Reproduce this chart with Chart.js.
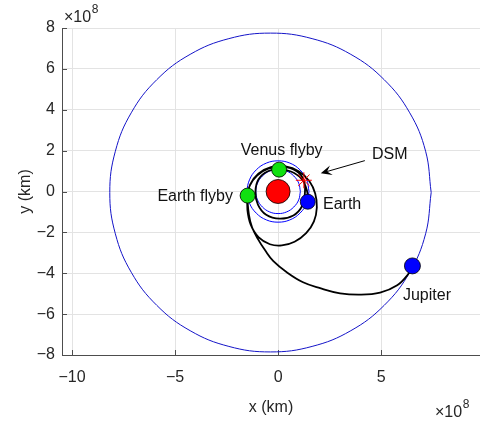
<!DOCTYPE html>
<html>
<head>
<meta charset="utf-8">
<script src="https://cdn.jsdelivr.net/npm/chart.js@4/dist/chart.umd.min.js"></script>
<style>
  html, body { margin: 0; padding: 0; background: #ffffff; }
  canvas { display: block; }
</style>
</head>
<body>
<canvas id="c" width="480" height="424"></canvas>
<script>
// All distances are in units of 10^8 km (axes carry the x10^8 multiplier).
const xTicks = [-10, -5, 0, 5];
const yTicks = [-8, -6, -4, -2, 0, 2, 4, 6, 8];

// Planetary orbits
const venusOrbit = [
  [1.08, 0], [1.00, 0.41], [0.76, 0.76], [0.41, 1.00], [0, 1.08], [-0.41, 1.00], [-0.76, 0.76], [-1.00, 0.41],
  [-1.08, 0], [-1.00, -0.41], [-0.76, -0.76], [-0.41, -1.00], [0, -1.08], [0.41, -1.00], [0.76, -0.76], [1.00, -0.41],
  [1.08, 0]
];
const earthOrbit = [
  [1.50, 0], [1.39, 0.57], [1.06, 1.06], [0.57, 1.39], [0, 1.50], [-0.57, 1.39], [-1.06, 1.06], [-1.39, 0.57],
  [-1.50, 0], [-1.39, -0.57], [-1.06, -1.06], [-0.57, -1.39], [0, -1.50], [0.57, -1.39], [1.06, -1.06], [1.39, -0.57],
  [1.50, 0]
];
const jupiterOrbit = [
  [7.43, -0.05], [7.16, 1.97], [6.39, 3.85], [5.15, 5.47], [3.53, 6.71], [1.65, 7.48], [-0.37, 7.75],
  [-2.39, 7.48], [-4.27, 6.71], [-5.89, 5.47], [-7.13, 3.85], [-7.90, 1.97], [-8.17, -0.05],
  [-7.90, -2.07], [-7.13, -3.95], [-5.89, -5.57], [-4.27, -6.81], [-2.39, -7.58], [-0.37, -7.85],
  [1.65, -7.58], [3.53, -6.81], [5.15, -5.57], [6.39, -3.95], [7.16, -2.07], [7.43, -0.05]
];

// Spacecraft path: launch, Venus flyby, DSM, two Earth passes, cruise to Jupiter
const trajectory = [
  [1.44, -0.50], [1.40, 0.05], [1.14, 0.62], [0.62, 0.98], [0.05, 1.08],
  [-0.52, 0.98], [-0.95, 0.60], [-1.10, 0.00], [-0.98, -0.64], [-0.58, -1.14],
  [0.08, -1.33], [0.74, -1.17], [1.16, -0.72], [1.30, -0.08], [1.25, 0.55],
  [0.88, 1.00], [0.25, 1.20], [-0.45, 1.13], [-1.02, 0.78], [-1.38, 0.28],
  [-1.48, -0.20], [-1.49, -0.90], [-1.33, -1.62], [-0.94, -2.25], [-0.40, -2.58],
  [0.18, -2.64], [0.80, -2.46], [1.36, -2.04], [1.74, -1.46], [1.88, -0.78],
  [1.80, -0.10], [1.52, 0.50], [1.02, 0.98], [0.36, 1.23], [-0.35, 1.19],
  [-0.96, 0.87], [-1.36, 0.34], [-1.48, -0.20],
  [-1.42, -1.12], [-1.26, -1.76], [-0.97, -2.34], [-0.63, -2.88], [-0.23, -3.41],
  [0.42, -3.95], [1.21, -4.44], [2.04, -4.73], [3.01, -4.98], [3.98, -5.05],
  [4.95, -4.95], [5.78, -4.59], [6.31, -4.05], [6.52, -3.64]
];

// Bodies and events
const sun = [[0, 0]];
const venusFlyby = [[0.05, 1.07]];
const earthFlyby = [[-1.48, -0.20]];
const earthLaunch = [[1.44, -0.50]];
const dsm = [[1.25, 0.55]];
const jupiter = [[6.52, -3.64]];

const FONT = '"Liberation Sans", Arial, Helvetica, sans-serif';
const INK = '#262626';

const pts = a => a.map(([x, y]) => ({ x, y }));
const fmtTick = v => (v < 0 ? '\u2212' + Math.abs(v) : String(v));

// Text annotations, placed in data coordinates
const notes = [
  { text: 'Venus flyby', x: 0.17, y: 2.00, align: 'center' },
  { text: 'Earth flyby', x: -2.19, y: -0.25, align: 'right' },
  { text: 'Earth', x: 2.18, y: -0.63, align: 'left' },
  { text: 'Jupiter', x: 6.06, y: -5.09, align: 'left' },
  { text: 'DSM', x: 4.56, y: 1.79, align: 'left' }
];
const dsmArrow = { from: [4.21, 1.51], to: [2.07, 0.89] };

function marker(data, fill, radius) {
  return {
    data: pts(data), showLine: false, pointRadius: radius, pointHoverRadius: radius,
    pointBackgroundColor: fill, pointBorderColor: '#000', pointBorderWidth: 0.8
  };
}
function curve(data, color, width) {
  return {
    data: pts(data), showLine: true, tension: 0.4, pointRadius: 0, pointHoverRadius: 0,
    borderColor: color, borderWidth: width, fill: false
  };
}

const decor = {
  id: 'decor',
  beforeDatasetsDraw(chart) {
    const { ctx, chartArea: a, scales: { x, y } } = chart;
    ctx.save();
    ctx.strokeStyle = '#4d4d4d';
    ctx.lineWidth = 1;
    ctx.beginPath();
    xTicks.forEach(v => {
      const px = Math.round(x.getPixelForValue(v)) + 0.5;
      ctx.moveTo(px, a.bottom); ctx.lineTo(px, a.bottom - 5);
    });
    yTicks.forEach(v => {
      const py = Math.round(y.getPixelForValue(v)) + 0.5;
      ctx.moveTo(a.left, py); ctx.lineTo(a.left + 5, py);
    });
    ctx.stroke();
    ctx.restore();
  },
  afterDraw(chart) {
    const { ctx, chartArea: a, scales: { x, y } } = chart;
    ctx.save();
    // annotation labels
    ctx.font = '16px ' + FONT;
    ctx.fillStyle = '#111';
    ctx.textBaseline = 'middle';
    notes.forEach(n => {
      ctx.textAlign = n.align;
      ctx.fillText(n.text, x.getPixelForValue(n.x), y.getPixelForValue(n.y));
    });
    // DSM arrow
    const x0 = x.getPixelForValue(dsmArrow.from[0]), y0 = y.getPixelForValue(dsmArrow.from[1]);
    const x1 = x.getPixelForValue(dsmArrow.to[0]), y1 = y.getPixelForValue(dsmArrow.to[1]);
    const ang = Math.atan2(y1 - y0, x1 - x0);
    const L = 11, W = 5;
    ctx.strokeStyle = '#000';
    ctx.lineWidth = 1;
    ctx.beginPath();
    ctx.moveTo(x0, y0);
    ctx.lineTo(x1 - Math.cos(ang) * L * 0.6, y1 - Math.sin(ang) * L * 0.6);
    ctx.stroke();
    ctx.fillStyle = '#000';
    ctx.beginPath();
    ctx.moveTo(x1, y1);
    ctx.lineTo(x1 - Math.cos(ang) * L - Math.sin(ang) * W, y1 - Math.sin(ang) * L + Math.cos(ang) * W);
    ctx.lineTo(x1 - Math.cos(ang) * L * 0.6, y1 - Math.sin(ang) * L * 0.6);
    ctx.lineTo(x1 - Math.cos(ang) * L + Math.sin(ang) * W, y1 - Math.sin(ang) * L - Math.cos(ang) * W);
    ctx.closePath();
    ctx.fill();
    // axis multipliers
    ctx.fillStyle = INK;
    ctx.textBaseline = 'alphabetic';
    ctx.textAlign = 'left';
    const drawExp = (lx, base) => {
      ctx.font = '16px ' + FONT;
      ctx.fillText('\u00d710', lx, base);
      const w = ctx.measureText('\u00d710').width;
      ctx.font = '12px ' + FONT;
      ctx.fillText('8', lx + w + 0.5, base - 9);
    };
    drawExp(a.left + 2, a.top - 6);
    drawExp(a.right - 45, a.bottom + 62);
    ctx.restore();
  }
};

new Chart(document.getElementById('c'), {
  type: 'scatter',
  data: {
    datasets: [
      marker(sun, '#ff0000', 12),
      marker(venusFlyby, '#10e010', 7.5),
      marker(earthFlyby, '#10e010', 7.5),
      marker(earthLaunch, '#0000ff', 7.5),
      marker(jupiter, '#0000ff', 8),
      {
        data: pts(dsm), showLine: false, pointStyle: 'star', pointRadius: 8, pointHoverRadius: 8,
        pointBorderColor: '#ff0000', pointBorderWidth: 1, pointBackgroundColor: '#ff0000'
      },
      curve(trajectory, '#000000', 1.8),
      curve(venusOrbit, '#0000ff', 1),
      curve(earthOrbit, '#0000ff', 1),
      curve(jupiterOrbit, '#1414c8', 1)
    ]
  },
  options: {
    responsive: false,
    animation: false,
    devicePixelRatio: 1,
    events: [],
    layout: { autoPadding: false, padding: { top: 28, right: 0, bottom: 0, left: 0 } },
    plugins: { legend: { display: false }, tooltip: { enabled: false } },
    scales: {
      x: {
        type: 'linear', min: -10.49, max: 9.8,
        afterBuildTicks: s => { s.ticks = xTicks.map(v => ({ value: v })); },
        afterFit: s => { s.height = 69; s.paddingLeft = 0; s.paddingRight = 0; },
        grid: { color: '#e3e3e3', drawTicks: false },
        border: { color: '#4d4d4d', width: 1 },
        ticks: { padding: 13, color: INK, font: { family: FONT, size: 16 }, maxRotation: 0, autoSkip: false, callback: fmtTick },
        title: { display: true, text: 'x (km)', color: INK, font: { family: FONT, size: 16 }, padding: { top: 0, bottom: 7 } }
      },
      y: {
        type: 'linear', min: -8, max: 8,
        afterBuildTicks: s => { s.ticks = yTicks.map(v => ({ value: v })); },
        afterFit: s => { s.width = 62; s.paddingTop = 0; s.paddingBottom = 0; },
        grid: { color: '#e3e3e3', drawTicks: false },
        border: { color: '#4d4d4d', width: 1 },
        ticks: { padding: 7, color: INK, font: { family: FONT, size: 16 }, autoSkip: false, callback: fmtTick },
        title: { display: true, text: 'y (km)', color: INK, font: { family: FONT, size: 16 }, padding: { top: 16, bottom: 0 } }
      }
    }
  },
  plugins: [decor]
});
</script>
</body>
</html>
